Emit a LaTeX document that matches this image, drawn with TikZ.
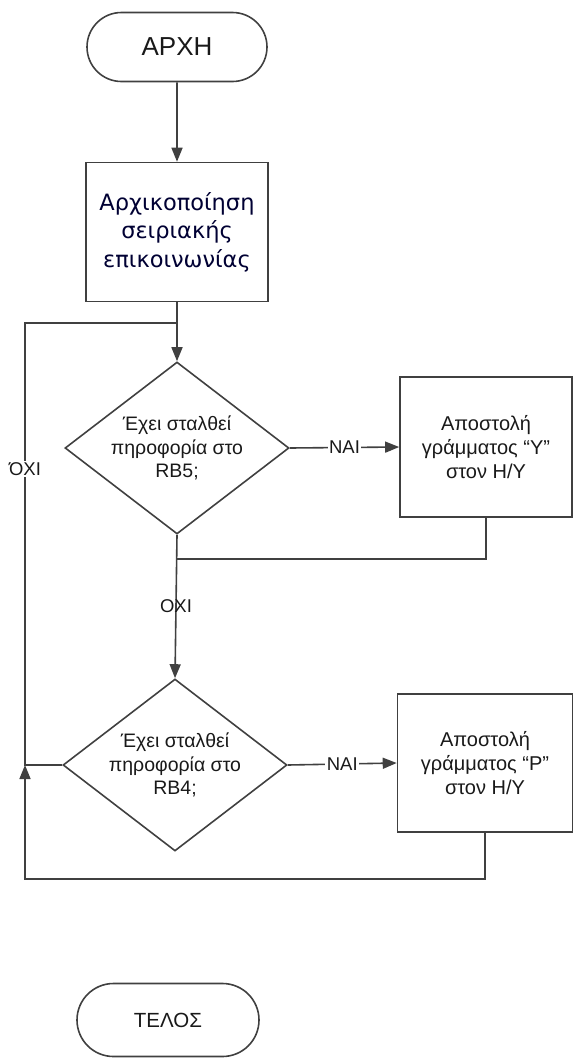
\documentclass[tikz,border=0pt]{standalone}
\usepackage{fontspec}
\setmainfont{Liberation Sans}
\newfontfamily\initfont{DejaVu Sans}
\usetikzlibrary{shapes,positioning,arrows.meta}
\tikzset{>={Triangle[length=14pt,width=11pt]}}
\colorlet{penColor}{black!75}
\colorlet{textColor}{black!90}
\tikzset{
  flow/.style={penColor, line width=1.6pt},
  terminal/.style={draw=penColor, line width=1.6pt, rounded rectangle, inner sep=0pt, text=textColor},
  procbox/.style={draw=penColor, line width=1.6pt, rectangle, inner sep=0pt, align=center, text=textColor,
    font=\fontsize{20pt}{24pt}\selectfont},
  decision/.style={draw=penColor, line width=1.6pt, diamond, aspect=1.3, inner sep=0pt,
    minimum width=224pt, minimum height=172pt, align=center, text=textColor,
    font=\fontsize{19.5pt}{23.5pt}\selectfont},
  lbl/.style={fill=white, inner sep=1.5pt, text=textColor, font=\fontsize{18.5pt}{22pt}\selectfont}
}

\begin{document}
\begin{tikzpicture}[x=1pt,y=-1pt]
\useasboundingbox (0,0) rectangle (575,1058);
% start / init
\node[terminal, minimum width=180pt, minimum height=69pt, font=\fontsize{26pt}{30pt}\selectfont] (start) at (177,47) {ΑΡΧΗ};
\node[procbox, minimum width=182pt, minimum height=139pt, text=blue!20!black,
  font=\initfont\fontsize{22.5pt}{28.5pt}\selectfont] (init) at (177,232) {Αρχικοποίηση\\σειριακής\\επικοινωνίας};
\draw[->,flow] (start) -- (init);
% decisions
\node[decision] (dec1) at (177,448) {Έχει σταλθεί\\πηροφορία στο\\RB5;};
\node[decision] (dec2) at (175,765) {Έχει σταλθεί\\πηροφορία στο\\RB4;};
\node[procbox, minimum width=172pt, minimum height=140pt] (send1) at (486,447) {Αποστολή\\γράμματος “Y”\\στον Η/Υ};
\node[procbox, minimum width=175pt, minimum height=138pt] (send2) at (485,763) {Αποστολή\\γράμματος “P”\\στον Η/Υ};
%\node[terminal] at (169,1020) {};
\node[terminal, minimum width=182pt, minimum height=73pt, font=\fontsize{20.5pt}{24pt}\selectfont] (stop) at (168,1020) {ΤΕΛΟΣ};
% joins
\coordinate (topjoin) at (177,323);
\coordinate (midjoin) at (177,559);
\coordinate (lefttop) at (25,323);
\coordinate (leftjoin) at (25,765);
\coordinate (leftbot) at (25,879);
\draw[flow] (init) -- (topjoin);
\draw[->,flow] (topjoin) -- (dec1.north);
\draw[->,flow] (dec1.east) -- node[lbl] (yes1) {ΝΑΙ} (send1.west);
\draw[flow] (send1.south) |- (midjoin);
\draw[->,flow] (dec1.south) -- node[lbl, fill=none] (no1) {ΟΧΙ} (dec2.north);
\draw[->,flow] (dec2.east) -- node[lbl] (yes2) {ΝΑΙ} (send2.west);
\draw[flow] (dec2.west) -- (leftjoin) -- node[lbl, pos=0.67] (no2) {ΌΧΙ} (lefttop) -- (topjoin);
\draw[->,flow] (send2.south) |- (leftbot) -- (leftjoin);
\end{tikzpicture}
\end{document}
